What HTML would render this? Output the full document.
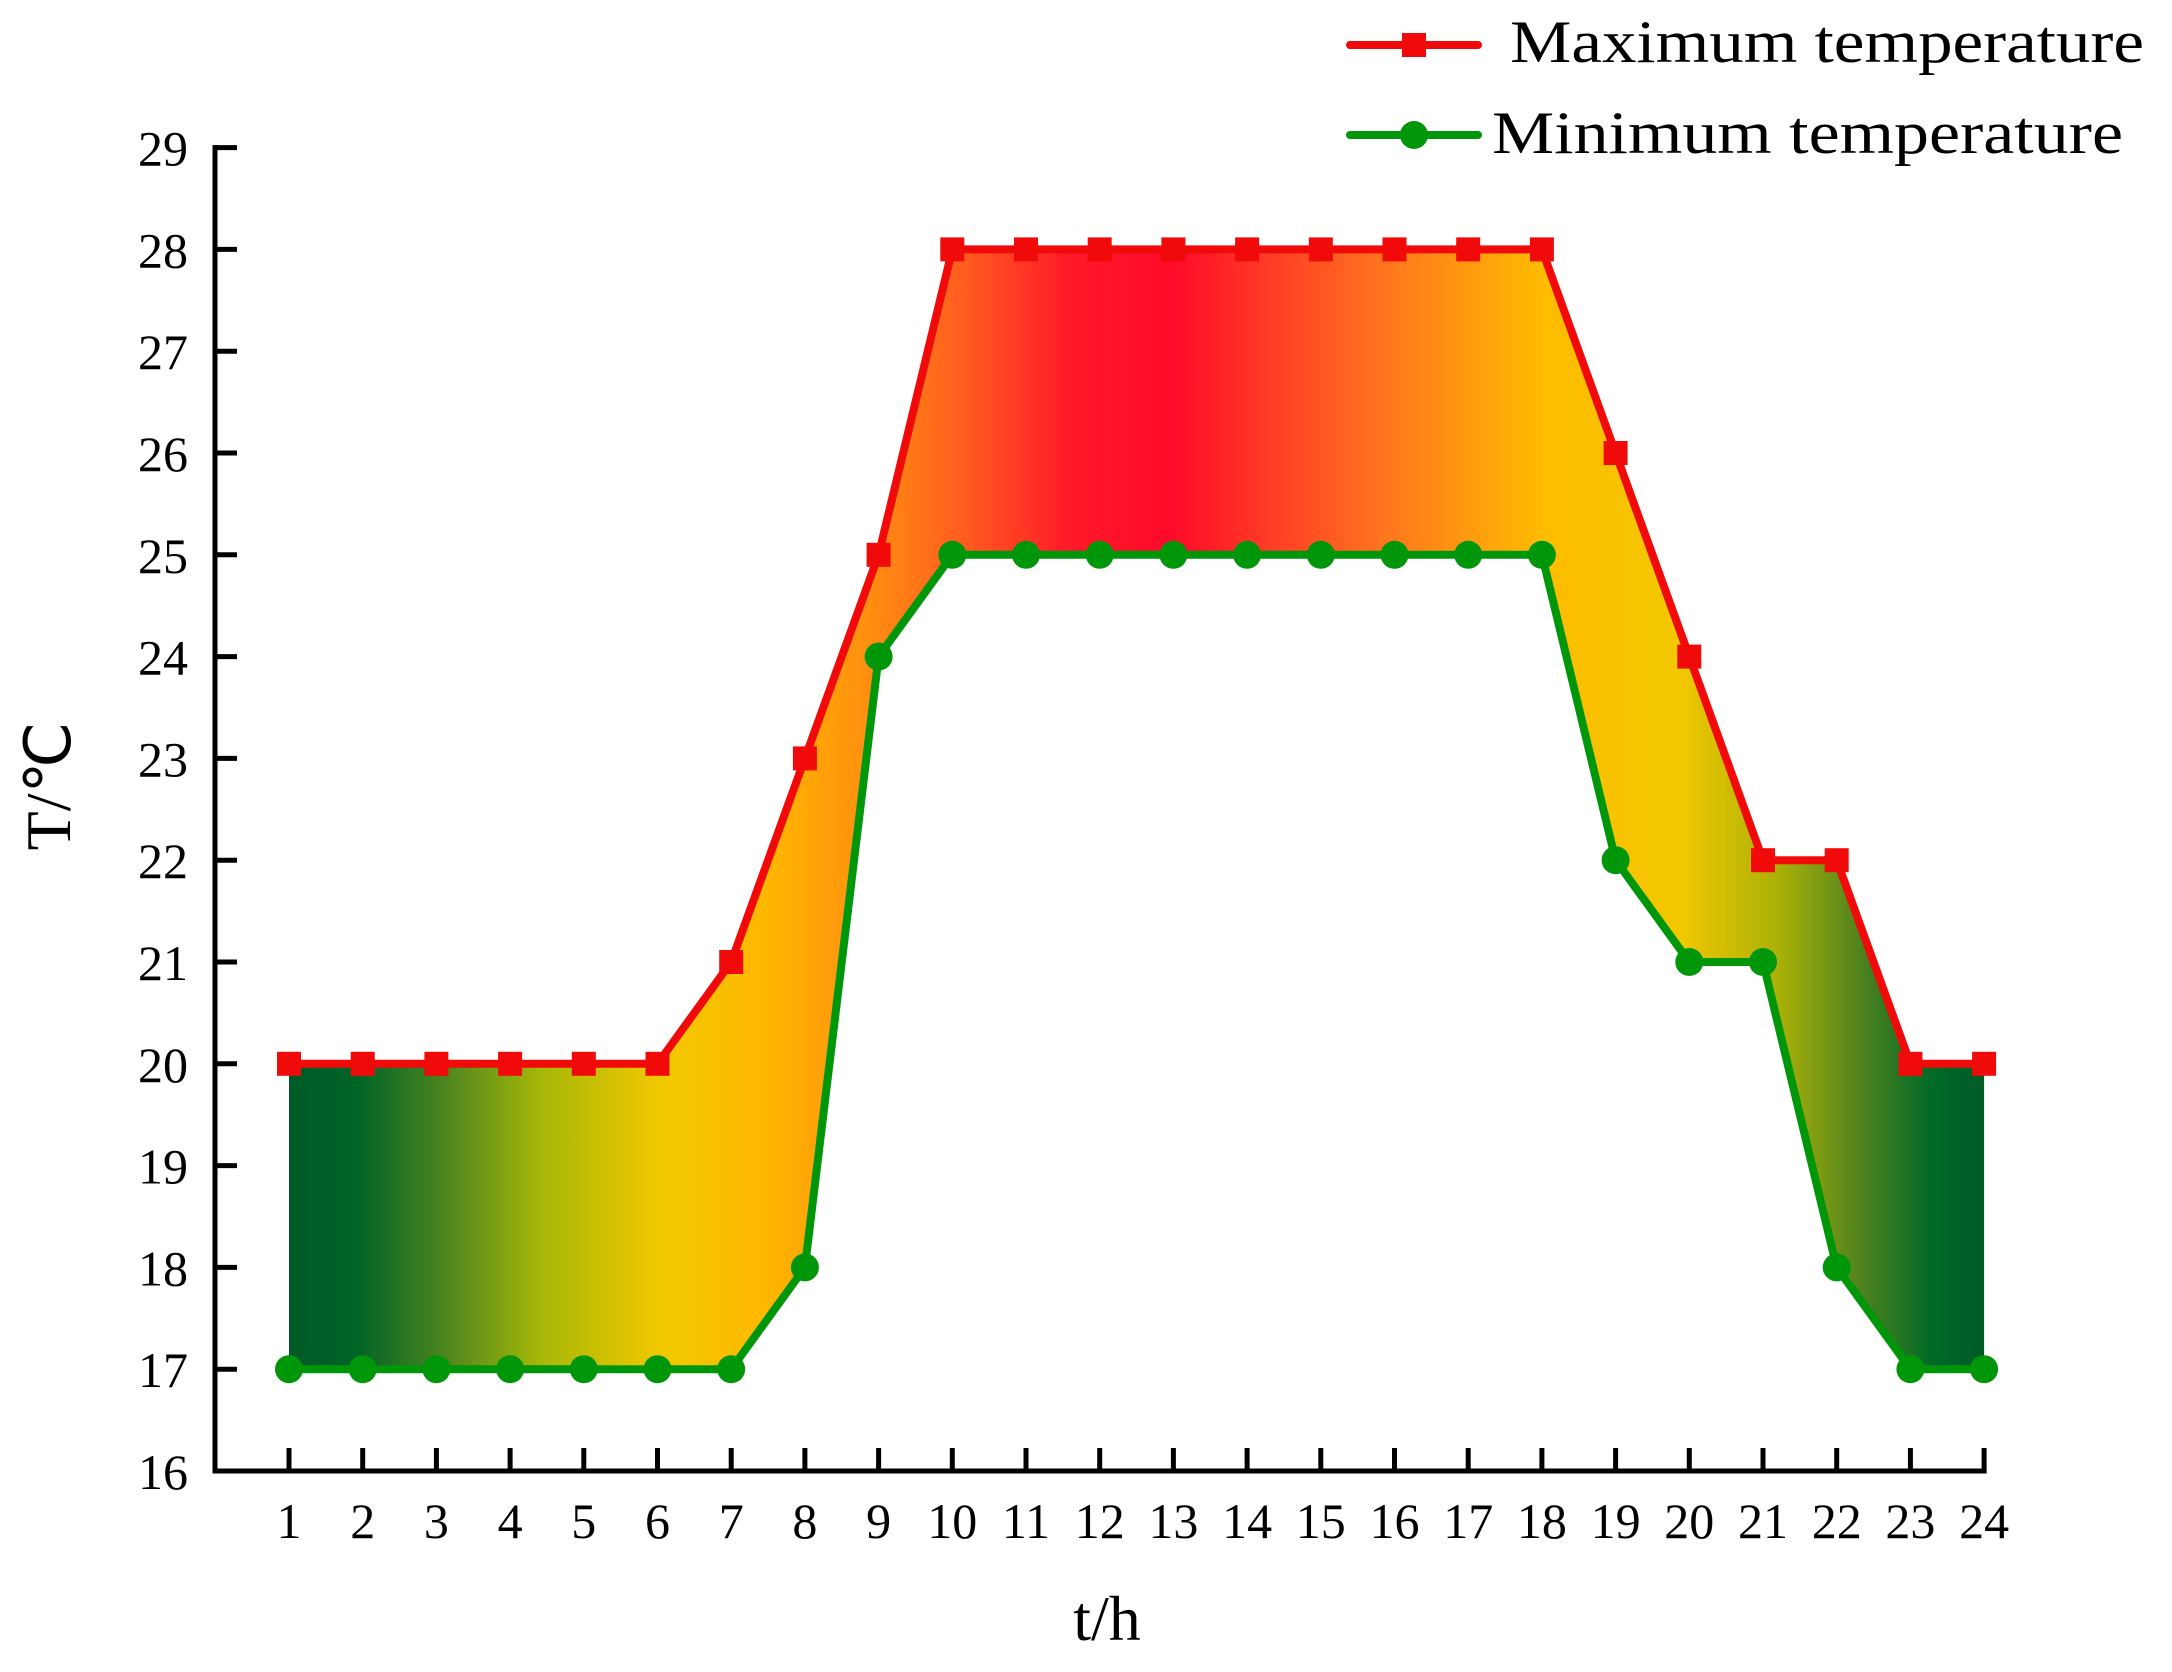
<!DOCTYPE html>
<html><head><meta charset="utf-8"><style>
html,body{margin:0;padding:0;background:#fff;}
svg{display:block;font-family:"Liberation Serif",serif;}
</style></head><body>
<svg id="chart" width="2172" height="1672" viewBox="0 0 2172 1672" xmlns="http://www.w3.org/2000/svg">
<defs>
<linearGradient id="grad" gradientUnits="userSpaceOnUse" x1="289" y1="0" x2="1984" y2="0">
<stop offset="0" stop-color="#005a26"/>
<stop offset="0.04" stop-color="#006426"/>
<stop offset="0.09" stop-color="#4a8420"/>
<stop offset="0.15" stop-color="#a8b808"/>
<stop offset="0.22" stop-color="#f2c800"/>
<stop offset="0.28" stop-color="#ffb800"/>
<stop offset="0.34" stop-color="#ff9010"/>
<stop offset="0.40" stop-color="#ff5a20"/>
<stop offset="0.46" stop-color="#ff1a28"/>
<stop offset="0.52" stop-color="#ff0a2a"/>
<stop offset="0.64" stop-color="#ff7020"/>
<stop offset="0.74" stop-color="#ffbc00"/>
<stop offset="0.82" stop-color="#f2c800"/>
<stop offset="0.88" stop-color="#a8b008"/>
<stop offset="0.93" stop-color="#4a8020"/>
<stop offset="0.97" stop-color="#006a26"/>
<stop offset="1" stop-color="#005a26"/>
</linearGradient>
</defs>
<g id="plot"></g>
</svg>
<script>
const hours = [1,2,3,4,5,6,7,8,9,10,11,12,13,14,15,16,17,18,19,20,21,22,23,24];
const maxTemp = [20,20,20,20,20,20,21,23,25,28,28,28,28,28,28,28,28,28,26,24,22,22,20,20];
const minTemp = [17,17,17,17,17,17,17,18,24,25,25,25,25,25,25,25,25,25,22,21,21,18,17,17];
const yTicks = [16,17,18,19,20,21,22,23,24,25,26,27,28,29];

const NS = "http://www.w3.org/2000/svg";
const g = document.getElementById('plot');
const X0 = 289, XS = 73.7, Y0 = 1471, YS = 101.8, AXL = 215;
function xs(h){ return X0 + (h-1)*XS; }
function ys(v){ return Y0 - (v-16)*YS; }
function mk(tag, attrs, parent){
  const e = document.createElementNS(NS, tag);
  for (const k in attrs) e.setAttribute(k, attrs[k]);
  (parent||g).appendChild(e);
  return e;
}

let d = 'M' + hours.map((h,i)=>xs(h)+','+ys(maxTemp[i])).join('L');
for (let i=hours.length-1;i>=0;i--) d += 'L'+xs(hours[i])+','+ys(minTemp[i]);
d += 'Z';
const band = mk('path',{d:d,fill:'url(#grad)'});



const axes = mk('path',{d:`M${AXL},${ys(29)}V${Y0}H${xs(24)}`,fill:'none',stroke:'#000','stroke-width':5,'stroke-linecap':'square'});



yTicks.forEach(v=>{
  const t = mk('line',{x1:AXL,x2:AXL+22,y1:ys(v),y2:ys(v),stroke:'#000','stroke-width':5});
  
  
  const l = mk('text',{x:188,y:ys(v)+18,'text-anchor':'end','font-size':50,fill:'#000'});
  l.textContent = v;
  
  
});
hours.forEach(h=>{
  const t = mk('line',{x1:xs(h),x2:xs(h),y1:Y0,y2:Y0-23,stroke:'#000','stroke-width':5});
  
  
  const l = mk('text',{x:xs(h),y:1538,'text-anchor':'middle','font-size':50,fill:'#000'});
  l.textContent = h;
  
  
});

const xt = mk('text',{x:1107,y:1640,'text-anchor':'middle','font-size':64,fill:'#000'});
xt.textContent = 't/h';


const yt = mk('text',{x:0,y:0,'text-anchor':'middle','font-size':64,fill:'#000',transform:'translate(70,786) rotate(-90)'});
yt.textContent = 'T/℃';



const minLine = mk('polyline',{points:hours.map((h,i)=>xs(h)+','+ys(minTemp[i])).join(' '),fill:'none',stroke:'#00960a','stroke-width':8,'stroke-linejoin':'round'});


const maxLine = mk('polyline',{points:hours.map((h,i)=>xs(h)+','+ys(maxTemp[i])).join(' '),fill:'none',stroke:'#f00a0a','stroke-width':8,'stroke-linejoin':'round'});



hours.forEach((h,i)=>{
  const c = mk('circle',{cx:xs(h),cy:ys(minTemp[i]),r:14,fill:'#00960a'});
  
  
  const s = mk('rect',{x:xs(h)-12,y:ys(maxTemp[i])-12,width:24,height:24,fill:'#f00a0a'});
  
  
});

const lg = mk('g',{});


mk('line',{x1:1350,x2:1478,y1:45,y2:45,stroke:'#f00a0a','stroke-width':8,'stroke-linecap':'round'},lg);
mk('rect',{x:1402,y:33,width:24,height:24,fill:'#f00a0a'},lg);
const t1 = mk('text',{x:1510,y:62,'font-size':60,fill:'#000',textLength:634,lengthAdjust:'spacingAndGlyphs'},lg);
t1.textContent = 'Maximum temperature';


mk('line',{x1:1350,x2:1478,y1:135,y2:135,stroke:'#00960a','stroke-width':8,'stroke-linecap':'round'},lg);
mk('circle',{cx:1414,cy:135,r:14,fill:'#00960a'},lg);
const t2 = mk('text',{x:1492,y:153,'font-size':60,fill:'#000',textLength:631,lengthAdjust:'spacingAndGlyphs'},lg);
t2.textContent = 'Minimum temperature';


</script>
</body></html>
